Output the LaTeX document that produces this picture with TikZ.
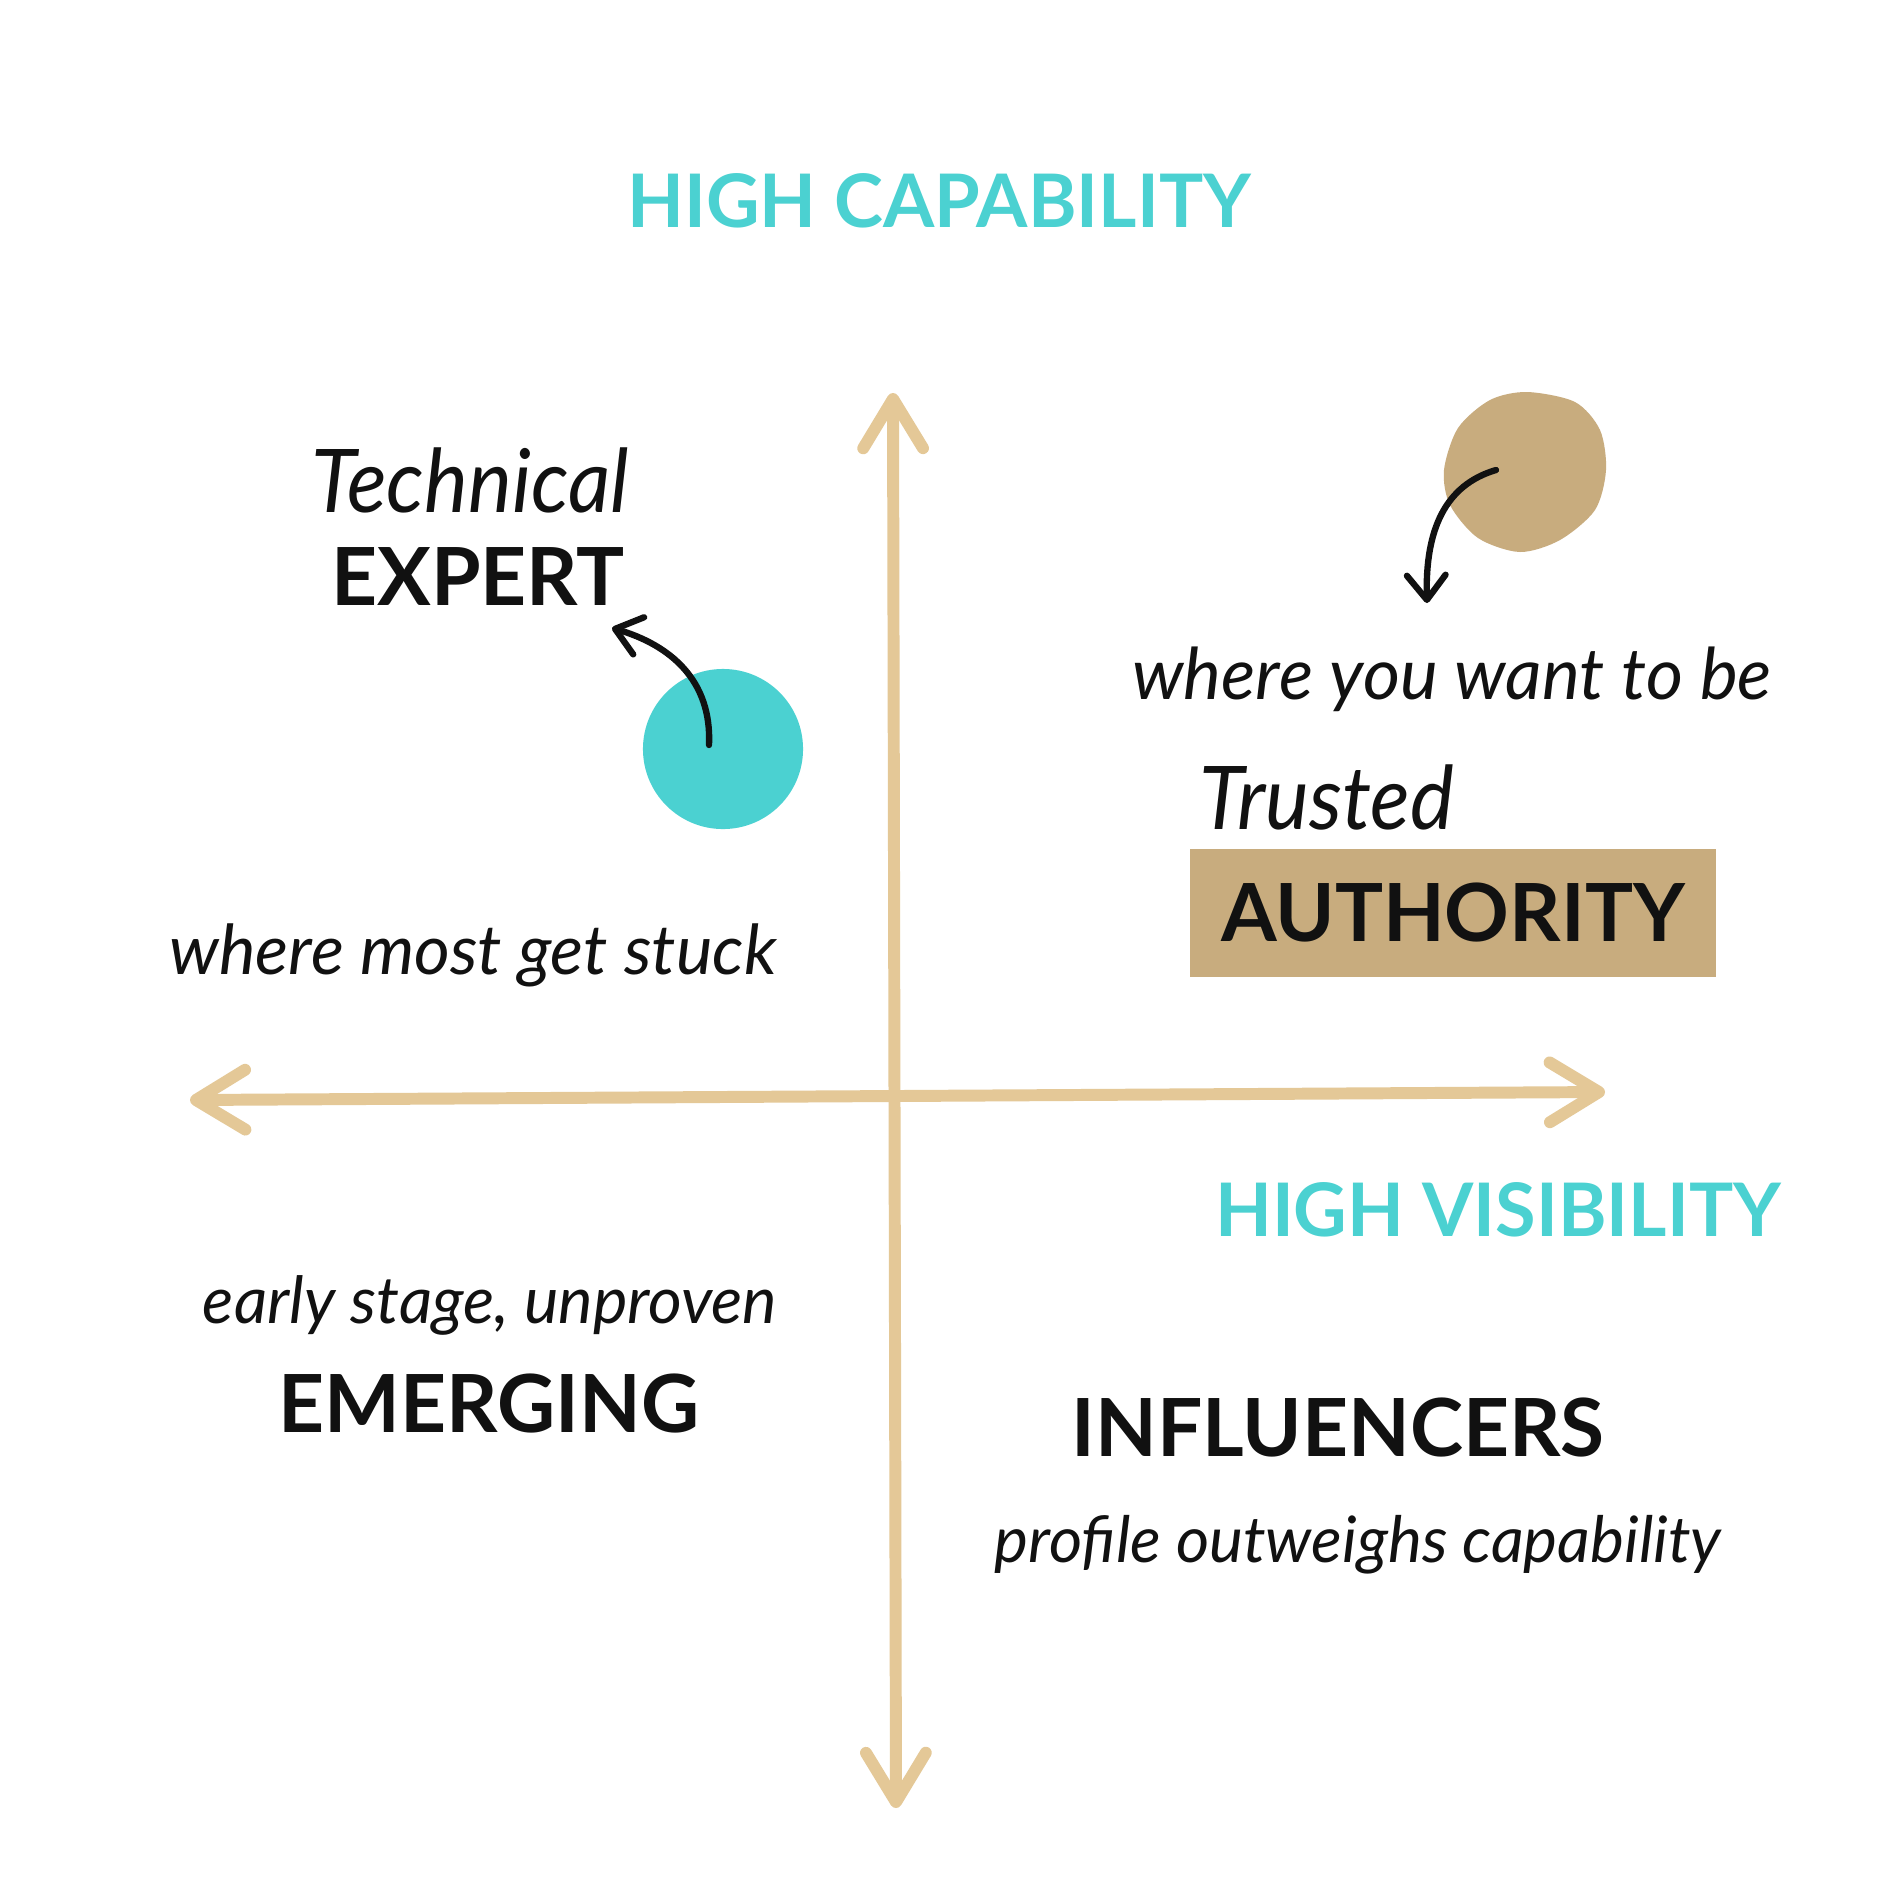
\documentclass[tikz,border=0pt]{standalone}
\usepackage{fontspec}
\setmainfont{Lato}
\newfontfamily\slantfont[FakeStretch=0.94]{Lato Italic}
\newfontfamily\handfont{Lato Italic}
\usetikzlibrary{arrows.meta,positioning,calc}

\definecolor{axistan}{HTML}{E4C897}
\definecolor{blobtan}{HTML}{C8AC7E}
\definecolor{capteal}{HTML}{4BD1D1}
\definecolor{ink}{HTML}{111111}

\begin{document}
\begin{tikzpicture}[x=0.01cm,y=-0.01cm,
    axis/.style={draw=axistan,line width=3.4pt,line cap=round,
      {Straight Barb[length=14pt,width=17pt,round]}-{Straight Barb[length=14pt,width=17pt,round]}},
    pointer/.style={draw=ink,line width=1.8pt,line cap=round,
      -{Straight Barb[length=7pt,width=11pt,round]}},
    capword/.style={anchor=base,text=capteal,font=\bfseries\fontsize{21pt}{25pt}\selectfont},
    bigword/.style={anchor=base,text=ink,font=\bfseries\fontsize{22.8pt}{27pt}\selectfont},
    slantword/.style={anchor=base,text=ink,font=\slantfont\fontsize{25pt}{29pt}\selectfont},
    hand/.style={anchor=base,text=ink,font=\handfont\fontsize{#1}{#1}\selectfont},
    hand/.default=19pt]
  \fill[white] (0,0) rectangle (1890,1890);
  \useasboundingbox (0,0) rectangle (1890,1890);

  % axes
  \coordinate (top) at (893,393);
  \coordinate (bottom) at (896,1808);
  \coordinate (left) at (190,1100);
  \coordinate (right) at (1605,1092);
  \draw[axis] (bottom) -- (top);
  \draw[axis] (left) -- (right);

  \node[capword] (capability) at (939,227) {HIGH CAPABILITY};
  \node[capword] (visibility) at (1498,1236) {HIGH VISIBILITY};

  % top left
  \node[slantword] (technical) at (470,512) {Technical};
  \node[bigword] (expert) at (478,605) {EXPERT};
  \node[circle,fill=capteal,minimum size=1.6cm,inner sep=0pt] (expertdot) at (723,749) {};
  \coordinate (expertfrom) at (709,745);
  \coordinate (expertto) at (612,628);
  \draw[pointer] (expertfrom) .. controls (712,680) and (670,645) .. (expertto);
  \node[hand=19.6pt] (stuck) at (473,974) {where most get stuck};

  % top right
  \fill[blobtan] plot[smooth cycle] coordinates {(1527,392) (1575,402) (1600,430) (1606,470)
    (1595,510) (1560,540) (1520,552) (1478,538) (1450,505) (1444,470) (1458,428) (1490,400)};
  \coordinate (authfrom) at (1496,470);
  \coordinate (authto) at (1427,603);
  \draw[pointer] (authfrom) .. controls (1445,485) and (1425,530) .. (authto);
  \node[hand=20.3pt] (wantbe) at (1452,699) {where you want to be};
  \node[slantword] (trusted) at (1327,829) {Trusted};
  \node[bigword,anchor=center,fill=blobtan,minimum width=5.26cm,minimum height=1.28cm]
    (authority) at (1453,913) {AUTHORITY};

  % bottom
  \node[hand=18.5pt] (unproven) at (490,1323) {early stage, unproven};
  \node[bigword] (emerging) at (489,1432) {EMERGING};
  \node[bigword] (influencers) at (1338,1456) {INFLUENCERS};
  \node[hand=18.2pt] (profile) at (1358,1562) {profile outweighs capability};
\end{tikzpicture}
\end{document}
